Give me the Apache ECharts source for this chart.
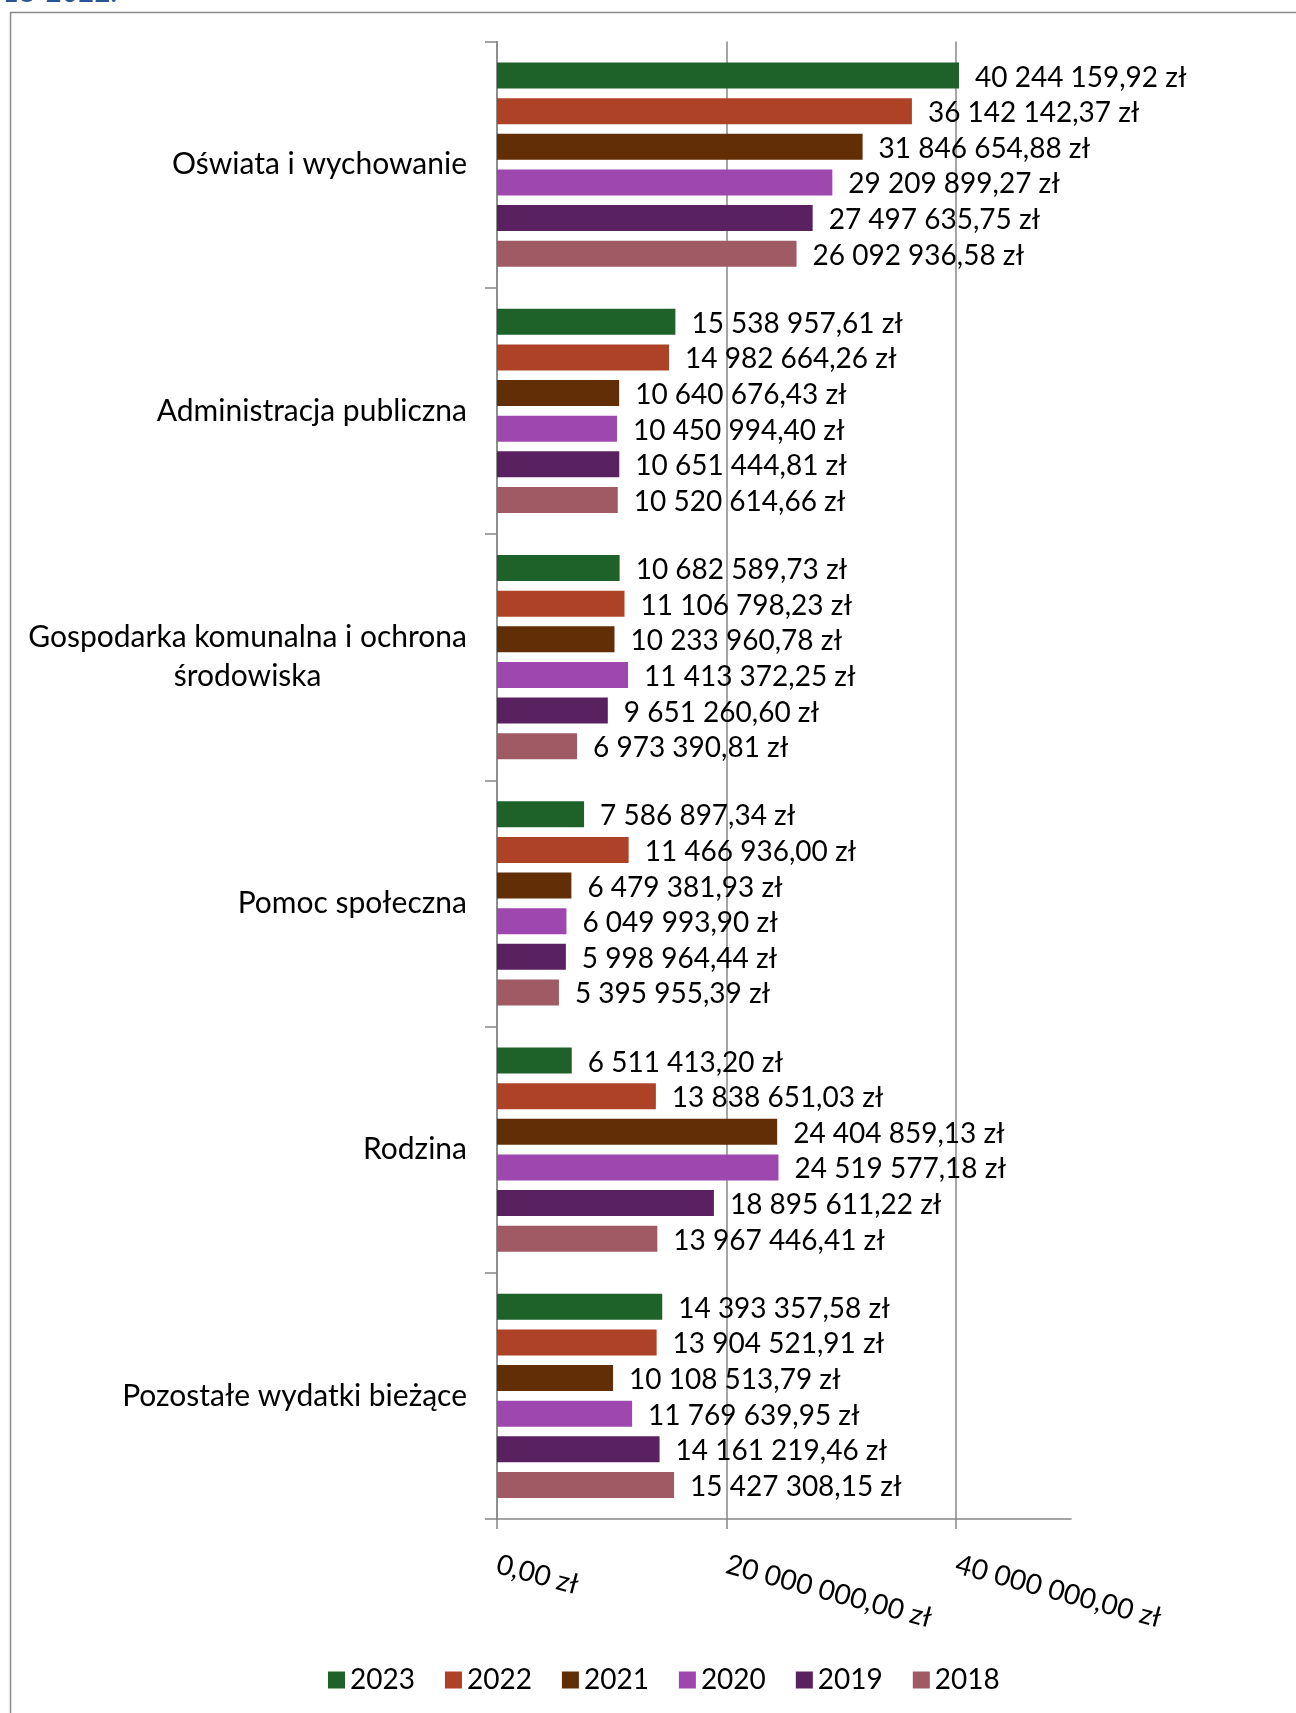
<!DOCTYPE html>
<html>
<head>
<meta charset="utf-8">
<script src="https://cdn.jsdelivr.net/npm/echarts@6/dist/echarts.min.js"></script>
<style>
html,body{margin:0;padding:0;background:#fff;}
#chart{width:1296px;height:1713px;}
</style>
</head>
<body>
<div id="chart"></div>
<script>
const categories = [
  'Oświata i wychowanie',
  'Administracja publiczna',
  'Gospodarka komunalna i ochrona\nśrodowiska',
  'Pomoc społeczna',
  'Rodzina',
  'Pozostałe wydatki bieżące'
];
const years = ['2023', '2022', '2021', '2020', '2019', '2018'];
const v2023 = [40244159.92, 15538957.61, 10682589.73, 7586897.34, 6511413.20, 14393357.58];
const v2022 = [36142142.37, 14982664.26, 11106798.23, 11466936.00, 13838651.03, 13904521.91];
const v2021 = [31846654.88, 10640676.43, 10233960.78, 6479381.93, 24404859.13, 10108513.79];
const v2020 = [29209899.27, 10450994.40, 11413372.25, 6049993.90, 24519577.18, 11769639.95];
const v2019 = [27497635.75, 10651444.81, 9651260.60, 5998964.44, 18895611.22, 14161219.46];
const v2018 = [26092936.58, 10520614.66, 6973390.81, 5395955.39, 13967446.41, 15427308.15];
const xTicks = [0, 20000000, 40000000];
const xMin = 0, xMax = 50000000, xInterval = 20000000;
const titleFragment = '2018-2022.';

const seriesValues = [v2023, v2022, v2021, v2020, v2019, v2018];
const colors = ['#1f6229', '#ae4226', '#622e06', '#9e47ae', '#5a2160', '#a05a64'];

function fmt(v) {
  const parts = v.toFixed(2).split('.');
  return parts[0].replace(/\B(?=(\d{3})+(?!\d))/g, ' ') + ',' + parts[1] + ' zł';
}

const FONT = 'Lato';
const GREY = '#878787';

const chart = echarts.init(document.getElementById('chart'), null, {renderer: 'canvas'});

const series = years.map((y, i) => ({
  name: y,
  type: 'bar',
  data: seriesValues[i],
  barWidth: 26,
  barGap: '37%',
  itemStyle: {color: colors[i]},
  label: {
    show: true,
    position: 'right',
    distance: 16,
    offset: [0, 2],
    fontFamily: FONT,
    fontSize: 28,
    color: '#000',
    formatter: p => fmt(p.value)
  }
}));

chart.setOption({
  animation: false,
  backgroundColor: '#fff',
  color: colors,
  grid: {left: 497, top: 41.5, right: 225, bottom: 194, containLabel: false},
  xAxis: {
    type: 'value',
    min: xMin,
    max: xMax,
    interval: xInterval,
    axisLine: {show: true, lineStyle: {color: GREY, width: 1.5}},
    axisTick: {show: true, length: 10, lineStyle: {color: GREY, width: 1.5}, customValues: xTicks},
    splitLine: {show: true, lineStyle: {color: [GREY, GREY, GREY, 'rgba(0,0,0,0)'], width: 1.5}},
    axisLabel: {
      customValues: xTicks,
      rotate: -15,
      margin: 45,
      fontFamily: FONT,
      fontSize: 28,
      color: '#000',
      formatter: v => (xTicks.indexOf(v) >= 0 ? fmt(v) : '')
    }
  },
  yAxis: {
    type: 'category',
    data: categories,
    inverse: true,
    axisLine: {show: true, lineStyle: {color: GREY, width: 1.5}},
    axisTick: {show: true, length: 12, alignWithLabel: false, lineStyle: {color: GREY, width: 1.5}},
    splitLine: {show: false},
    axisLabel: {
      margin: 30,
      color: '#000',
      fontFamily: FONT,
      fontSize: 30,
      lineHeight: 39,
      formatter: v => v.split('\n').map(l => '{c|' + l + '}').join('\n'),
      rich: {c: {align: 'center', fontFamily: FONT, fontSize: 30, lineHeight: 39, color: '#000'}}
    }
  },
  legend: {
    data: years,
    left: 328,
    top: 1666,
    icon: 'rect',
    itemWidth: 17,
    itemHeight: 17,
    itemGap: 30,
    padding: 0,
    textStyle: {fontFamily: FONT, fontSize: 28, color: '#000'}
  },
  graphic: [
    {
      type: 'rect',
      z: -1,
      silent: true,
      shape: {x: 10.5, y: 12.5, width: 1400, height: 1800},
      style: {fill: 'none', stroke: '#8a8a8a', lineWidth: 1.5}
    },
    {
      type: 'text',
      silent: true,
      style: {
        text: titleFragment,
        x: 117, y: 7,
        align: 'right',
        verticalAlign: 'bottom',
        fontFamily: FONT,
        fontSize: 28,
        fill: '#2a5593'
      }
    }
  ],
  series: series
});
</script>
</body>
</html>
